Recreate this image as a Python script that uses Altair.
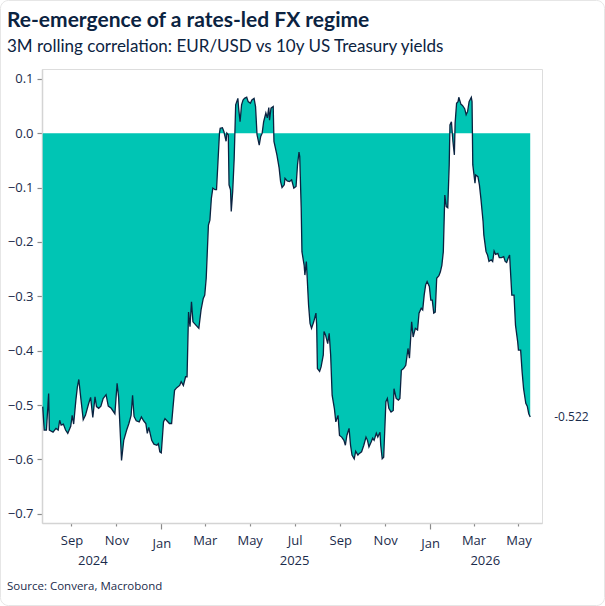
import altair as alt
import pandas as pd

TITLE = "Re-emergence of a rates-led FX regime"
SUBTITLE = "3M rolling correlation: EUR/USD vs 10y US Treasury yields"
SOURCE = "Source: Convera, Macrobond"

dates = [
    "2024-07-24", "2024-07-26", "2024-07-29", "2024-08-01", "2024-08-02", "2024-08-07",
    "2024-08-11", "2024-08-14", "2024-08-16", "2024-08-18", "2024-08-21", "2024-08-24",
    "2024-08-27", "2024-08-31", "2024-09-02", "2024-09-04", "2024-09-07", "2024-09-09",
    "2024-09-11", "2024-09-14", "2024-09-17", "2024-09-20", "2024-09-24", "2024-09-27",
    "2024-09-30", "2024-10-03", "2024-10-05", "2024-10-08", "2024-10-11", "2024-10-14",
    "2024-10-18", "2024-10-21", "2024-10-25", "2024-10-30", "2024-11-02", "2024-11-04",
    "2024-11-08", "2024-11-11", "2024-11-15", "2024-11-18", "2024-11-21", "2024-11-23",
    "2024-11-25", "2024-11-28", "2024-12-02", "2024-12-05", "2024-12-08", "2024-12-11",
    "2024-12-13", "2024-12-15", "2024-12-19", "2024-12-22", "2024-12-26", "2024-12-28",
    "2024-12-30", "2025-01-01", "2025-01-04", "2025-01-06", "2025-01-08", "2025-01-12",
    "2025-01-15", "2025-01-17", "2025-01-19", "2025-01-22", "2025-01-26", "2025-01-28",
    "2025-01-31", "2025-02-03", "2025-02-05", "2025-02-07", "2025-02-09", "2025-02-11",
    "2025-02-13", "2025-02-17", "2025-02-21", "2025-02-24", "2025-02-27", "2025-03-01",
    "2025-03-03", "2025-03-06", "2025-03-08", "2025-03-10", "2025-03-12", "2025-03-15",
    "2025-03-17", "2025-03-19", "2025-03-21", "2025-03-22", "2025-03-25", "2025-03-27",
    "2025-03-30", "2025-03-31", "2025-04-02", "2025-04-03", "2025-04-05", "2025-04-06",
    "2025-04-08", "2025-04-10", "2025-04-11", "2025-04-12", "2025-04-15", "2025-04-16",
    "2025-04-18", "2025-04-20", "2025-04-22", "2025-04-24", "2025-04-27", "2025-04-29",
    "2025-05-02", "2025-05-04", "2025-05-07", "2025-05-09", "2025-05-11", "2025-05-14",
    "2025-05-16", "2025-05-18", "2025-05-20", "2025-05-23", "2025-05-25", "2025-05-27",
    "2025-05-28", "2025-05-30", "2025-06-02", "2025-06-03", "2025-06-07", "2025-06-10",
    "2025-06-12", "2025-06-14", "2025-06-17", "2025-06-18", "2025-06-21", "2025-06-24",
    "2025-06-27", "2025-06-30", "2025-07-03", "2025-07-05", "2025-07-07", "2025-07-08",
    "2025-07-10", "2025-07-11", "2025-07-14", "2025-07-15", "2025-07-17", "2025-07-20",
    "2025-07-22", "2025-07-24", "2025-07-27", "2025-07-30", "2025-07-31", "2025-08-01",
    "2025-08-04", "2025-08-06", "2025-08-09", "2025-08-10", "2025-08-12", "2025-08-15",
    "2025-08-17", "2025-08-19", "2025-08-21", "2025-08-24", "2025-08-26", "2025-08-29",
    "2025-08-31", "2025-09-03", "2025-09-06", "2025-09-08", "2025-09-10", "2025-09-13",
    "2025-09-15", "2025-09-17", "2025-09-20", "2025-09-22", "2025-09-25", "2025-09-27",
    "2025-09-30", "2025-10-03", "2025-10-06", "2025-10-08", "2025-10-10", "2025-10-13",
    "2025-10-15", "2025-10-17", "2025-10-20", "2025-10-22", "2025-10-25", "2025-10-26",
    "2025-10-28", "2025-10-30", "2025-11-02", "2025-11-04", "2025-11-06", "2025-11-09",
    "2025-11-12", "2025-11-13", "2025-11-16", "2025-11-19", "2025-11-21", "2025-11-23",
    "2025-11-26", "2025-11-29", "2025-12-02", "2025-12-04", "2025-12-07", "2025-12-09",
    "2025-12-12", "2025-12-15", "2025-12-17", "2025-12-20", "2025-12-22", "2025-12-24",
    "2025-12-26", "2025-12-28", "2025-12-31", "2026-01-02", "2026-01-04", "2026-01-06",
    "2026-01-08", "2026-01-10", "2026-01-13", "2026-01-15", "2026-01-17", "2026-01-19",
    "2026-01-21", "2026-01-23", "2026-01-25", "2026-01-27", "2026-01-28", "2026-01-30",
    "2026-02-01", "2026-02-03", "2026-02-04", "2026-02-06", "2026-02-08", "2026-02-09",
    "2026-02-12", "2026-02-14", "2026-02-17", "2026-02-19", "2026-02-21", "2026-02-23",
    "2026-02-26", "2026-02-27", "2026-02-28", "2026-03-03", "2026-03-04", "2026-03-07",
    "2026-03-09", "2026-03-11", "2026-03-14", "2026-03-15", "2026-03-18", "2026-03-20",
    "2026-03-22", "2026-03-25", "2026-03-27", "2026-03-29", "2026-03-31", "2026-04-03",
    "2026-04-05", "2026-04-08", "2026-04-11", "2026-04-13", "2026-04-15", "2026-04-17",
    "2026-04-19", "2026-04-21", "2026-04-22", "2026-04-25", "2026-04-27", "2026-04-30",
    "2026-05-01", "2026-05-04", "2026-05-06", "2026-05-08", "2026-05-10", "2026-05-11",
    "2026-05-13", "2026-05-15", "2026-05-17",
]

values = [
    -0.503, -0.546, -0.546, -0.479, -0.546, -0.550,
    -0.543, -0.546, -0.528, -0.537, -0.535, -0.546,
    -0.552, -0.539, -0.519, -0.535, -0.491, -0.467,
    -0.453, -0.491, -0.527, -0.519, -0.499, -0.486,
    -0.523, -0.485, -0.503, -0.506, -0.502, -0.488,
    -0.481, -0.502, -0.506, -0.516, -0.460, -0.485,
    -0.602, -0.565, -0.546, -0.534, -0.519, -0.482,
    -0.521, -0.529, -0.531, -0.522, -0.529, -0.534,
    -0.552, -0.541, -0.565, -0.572, -0.574, -0.571,
    -0.586, -0.588, -0.531, -0.525, -0.528, -0.534,
    -0.534, -0.503, -0.473, -0.468, -0.464, -0.457,
    -0.464, -0.448, -0.448, -0.329, -0.356, -0.310,
    -0.347, -0.353, -0.359, -0.325, -0.304, -0.298,
    -0.267, -0.169, -0.160, -0.120, -0.101, -0.104,
    -0.104, -0.052, 0.000, 0.009, 0.010, 0.003,
    -0.015, 0.000, -0.003, -0.095, -0.104, -0.144,
    -0.107, -0.046, 0.003, 0.052, 0.064, 0.046,
    0.021, 0.052, 0.061, 0.064, 0.066, 0.058,
    0.055, 0.061, 0.064, 0.049, -0.003, -0.022,
    -0.006, 0.000, 0.021, 0.037, 0.028, 0.047,
    0.024, 0.046, 0.049, -0.015, -0.040, -0.064,
    -0.089, -0.100, -0.095, -0.083, -0.088, -0.089,
    -0.086, -0.101, -0.098, -0.058, -0.035, -0.043,
    -0.138, -0.218, -0.243, -0.261, -0.236, -0.316,
    -0.350, -0.359, -0.347, -0.331, -0.353, -0.433,
    -0.438, -0.430, -0.408, -0.365, -0.371, -0.387,
    -0.368, -0.408, -0.482, -0.506, -0.531, -0.519,
    -0.556, -0.559, -0.565, -0.574, -0.556, -0.543,
    -0.574, -0.592, -0.599, -0.585, -0.592, -0.589,
    -0.586, -0.574, -0.559, -0.565, -0.577, -0.568,
    -0.561, -0.565, -0.552, -0.559, -0.550, -0.574,
    -0.599, -0.596, -0.494, -0.488, -0.506, -0.513,
    -0.510, -0.470, -0.488, -0.491, -0.488, -0.436,
    -0.433, -0.427, -0.396, -0.414, -0.347, -0.375,
    -0.359, -0.362, -0.331, -0.322, -0.325, -0.298,
    -0.279, -0.273, -0.282, -0.307, -0.307, -0.331,
    -0.329, -0.267, -0.262, -0.255, -0.243, -0.218,
    -0.114, -0.135, -0.137, -0.058, 0.015, 0.021,
    -0.015, -0.040, 0.018, 0.055, 0.058, 0.066,
    0.053, 0.051, 0.045, 0.034, 0.040, 0.058,
    0.066, 0.058, -0.058, -0.092, -0.077, -0.080,
    -0.095, -0.120, -0.163, -0.187, -0.218, -0.224,
    -0.236, -0.233, -0.236, -0.217, -0.223, -0.221,
    -0.229, -0.229, -0.227, -0.236, -0.238, -0.230,
    -0.224, -0.273, -0.298, -0.298, -0.353, -0.384,
    -0.399, -0.399, -0.439, -0.470, -0.488, -0.497,
    -0.502, -0.516, -0.522,
]

year_labels = ["2024", "2025", "2026"]
year_label_dates = ["2024-09-30", "2025-07-01", "2026-03-17"]

tick_months = [(2024, 9), (2024, 11), (2025, 1), (2025, 3), (2025, 5), (2025, 7),
               (2025, 9), (2025, 11), (2026, 1), (2026, 3), (2026, 5)]

TEAL = "#00C5B4"
NAVY = "#0B2341"
TEXT = "#1B2B4B"
FONT = "Open Sans"
TFONT = "Lato"

W, H = 500, 454
PAD_L, PAD_T = 42, 69

df = pd.DataFrame({"date": dates, "corr": values})
last = df.tail(1).copy()
last["label"] = last["corr"].map(lambda v: f"{v:.3f}")
years_df = pd.DataFrame({"date": year_label_dates, "year": year_labels})
title_df = pd.DataFrame({"txt": [TITLE]})
subtitle_df = pd.DataFrame({"txt": [SUBTITLE]})
source_df = pd.DataFrame({"txt": [SOURCE]})
frame_df = pd.DataFrame({"k": [0]})

x_scale = alt.Scale(domain=[alt.DateTime(year=2024, month=7, date=23),
                            alt.DateTime(year=2026, month=6, date=2)])
y_scale = alt.Scale(domain=[-0.717, 0.118], nice=False, zero=False)

x_axis = alt.Axis(
    values=[alt.DateTime(year=y, month=m, date=1) for y, m in tick_months],
    format="%b", title=None, grid=False, labelFlush=False,
    domainColor="#D4D4D4", domainWidth=1.5,
    tickColor="#8A8A8A", tickWidth=1.2,
    tickSize={"condition": {"test": "month(datum.value) === 0", "value": 6}, "value": 3},
    labelPadding=8, labelFont=FONT, labelFontSize=13, labelColor=TEXT,
)
y_axis = alt.Axis(
    values=[0.1, 0.0, -0.1, -0.2, -0.3, -0.4, -0.5, -0.6, -0.7],
    format=".1f", title=None, grid=False,
    domainColor="#D4D4D4", domainWidth=1.5,
    tickColor="#8A8A8A", tickWidth=1.2, tickSize=5,
    labelPadding=4, labelFont=FONT, labelFontSize=13, labelColor=TEXT,
)

x_enc = alt.X("date:T", scale=x_scale, axis=x_axis)
y_enc = alt.Y("corr:Q", scale=y_scale, axis=y_axis)

base = alt.Chart(df)
area = base.mark_area(color=TEAL, opacity=1).encode(x=x_enc, y=y_enc, y2=alt.datum(0))
line = base.mark_line(color=NAVY, strokeWidth=1.3).encode(x="date:T", y="corr:Q")

last_lbl = alt.Chart(last).mark_text(
    align="left", baseline="middle", dx=24, font=FONT, fontSize=12, color=TEXT
).encode(x="date:T", y="corr:Q", text="label:N")

years = alt.Chart(years_df).mark_text(
    align="center", baseline="middle", font=FONT, fontSize=13, color=TEXT
).encode(x="date:T", y=alt.value(H + 38), text="year:N")

title = alt.Chart(title_df).mark_text(
    align="left", baseline="alphabetic", font=TFONT, fontSize=21, fontWeight="bold", color=NAVY
).encode(x=alt.value(7 - PAD_L), y=alt.value(27 - PAD_T), text="txt:N")

subtitle = alt.Chart(subtitle_df).mark_text(
    align="left", baseline="alphabetic", font=TFONT, fontSize=17, color=NAVY
).encode(x=alt.value(7 - PAD_L), y=alt.value(52 - PAD_T), text="txt:N")

source = alt.Chart(source_df).mark_text(
    align="left", baseline="middle", font=FONT, fontSize=11.5, color=TEXT
).encode(x=alt.value(7 - PAD_L), y=alt.value(H + 64), text="txt:N")

# faint rounded card border around the whole figure
frame = alt.Chart(frame_df).mark_rect(
    fill=None, stroke="#E6E6E6", strokeWidth=1, cornerRadius=8
).encode(
    x=alt.value(0.5 - PAD_L), x2=alt.value(604.5 - PAD_L),
    y=alt.value(0.5 - PAD_T), y2=alt.value(605.5 - PAD_T),
)

chart = alt.layer(frame, area, line, last_lbl, years, title, subtitle, source).properties(
    width=W, height=H,
    autosize=alt.AutoSizeParams(type="none"),
    padding={"left": PAD_L, "top": PAD_T, "right": 605 - PAD_L - W, "bottom": 606 - PAD_T - H},
).configure_view(stroke=None).configure(background="white")

chart.save("out.html", embed_options={"renderer": "svg", "actions": False})
